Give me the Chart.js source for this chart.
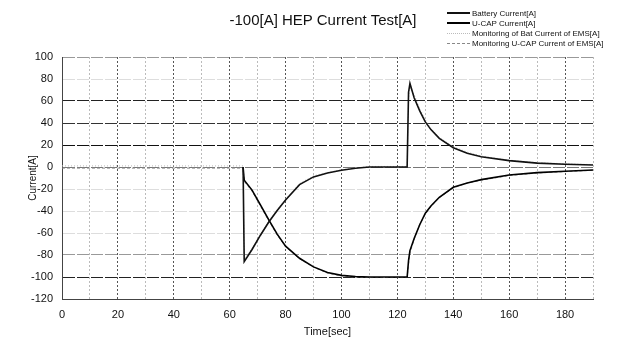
<!DOCTYPE html>
<html>
<head>
<meta charset="utf-8">
<script src="https://cdn.jsdelivr.net/npm/chart.js@4.4.0/dist/chart.umd.min.js"></script>
<style>
    body { margin: 0; background: #fff; font-family: "Liberation Sans", Arial, sans-serif; }
    #wrap { position: relative; width: 627px; height: 343px; }
    #title { position: absolute; left: 323px; top: 11px; transform: translateX(-50%); font-size: 15px; color: #111; white-space: nowrap; }
    #legend { position: absolute; left: 447px; top: 8px; font-size: 8px; color: #111; }
    .row { height: 10px; display: flex; align-items: center; white-space: nowrap; }
    .swatch { width: 23px; height: 0; margin-right: 2px; }
</style>
</head>
<body>
<div id="wrap">
    <canvas id="hep-chart" width="627" height="343"></canvas>
    <div id="title">-100[A] HEP Current Test[A]</div>
    <div id="legend"></div>
</div>
<script>
// the measured currents only show up from the 65 s step on; EMS monitoring is visible from 0 s
const timeSec        = [0, 64.8, 65.2, 68, 71, 74, 77, 80, 85, 90, 95, 100, 105, 110, 123.5, 124, 124.5, 126, 128, 130, 132, 135, 140, 145, 150, 160, 170, 180, 190];
const batteryCurrent = [null, 0, -86, -75, -62, -50, -39.5, -30, -16, -9, -5.5, -3, -1.2, 0, 0, 68, 76, 63, 51, 41, 34, 26, 17.5, 12.5, 9.3, 5.8, 3.5, 2.5, 1.8];
const ucapCurrent    = [null, 0, -12, -21, -34.5, -48, -61, -72, -83, -90.8, -96, -98.5, -99.5, -100, -100, -85, -76, -65, -52.5, -42, -35.5, -27.5, -18.5, -14.5, -11.5, -7.3, -5.1, -3.8, -2.7];
const monBatCurrent  = [1, 1, -84, -74, -61, -49, -38.5, -29, -15, -8, -5, -2.5, -1, 0.5, 0.5, 62, 72, 66, 53, 43, 35, 27, 18.5, 13.5, 10, 6.3, 4, 3, 2.2];
const monUcapCurrent = [-1, -1, -13, -22, -35.5, -49, -62, -72.5, -83.5, -91, -96.5, -99, -100, -100.5, -100.5, -88, -78, -66, -52, -43, -36, -28, -19, -14.5, -12, -7.8, -5.5, -4.2, -3];

const seriesLabels = ['Battery Current[A]', 'U-CAP Current[A]', 'Monitoring of Bat  Current of EMS[A]', 'Monitoring U-CAP Current of EMS[A]'];
const timeRange = [0, 190];
const currentRange = [-120, 100];

const toPoints = values => values.map((v, i) => ({ x: timeSec[i], y: v }));

const datasets = [
    { label: seriesLabels[0], data: toPoints(batteryCurrent), borderColor: '#111', borderWidth: 1.6, borderDash: [] },
    { label: seriesLabels[1], data: toPoints(ucapCurrent), borderColor: '#000', borderWidth: 1.6, borderDash: [] },
    { label: seriesLabels[2], data: toPoints(monBatCurrent), borderColor: '#bbb', borderWidth: 1, borderDash: [1, 2] },
    { label: seriesLabels[3], data: toPoints(monUcapCurrent), borderColor: '#888', borderWidth: 1, borderDash: [3, 2] }
].map(d => ({ ...d, pointRadius: 0, tension: 0, fill: false }));

// horizontal grid shades, darker where the scan shows heavy lines
const yGridColor = v => ({ 100: '#999', 60: '#222', 40: '#333', 20: '#111', 0: '#777', '-80': '#999', '-100': '#222', '-120': '#444' }[v] || '#ddd');

new Chart(document.getElementById('hep-chart'), {
    type: 'line',
    data: { datasets },
    options: {
        responsive: false,
        animation: false,
        layout: { padding: { top: 57, right: 34, left: 0, bottom: 0 } },
        plugins: { legend: { display: false }, title: { display: false }, tooltip: { enabled: false } },
        scales: {
            x: {
                type: 'linear',
                min: timeRange[0],
                max: timeRange[1],
                afterFit: s => { s.height = 44; },
                ticks: {
                    stepSize: 10,
                    padding: 9,
                    color: '#111',
                    font: { family: 'Liberation Sans', size: 11 },
                    callback: v => (v % 20 === 0 && v < 190 ? v : '')
                },
                grid: {
                    drawTicks: false,
                    color: ctx => (ctx.tick.value % 20 === 0 ? '#555' : '#bbb')
                },
                border: { color: '#444', dash: [2, 2] },
                title: { display: true, text: 'Time[sec]', color: '#111', font: { family: 'Liberation Sans', size: 11 }, padding: { top: 4 } }
            },
            y: {
                min: currentRange[0],
                max: currentRange[1],
                afterFit: s => { s.width = 62; },
                ticks: { stepSize: 20, padding: 9, color: '#111', font: { family: 'Liberation Sans', size: 11 } },
                grid: { drawTicks: false, color: ctx => yGridColor(ctx.tick.value) },
                border: { color: '#444', dash: [12, 2] },
                title: { display: true, text: 'Current[A]', color: '#111', font: { family: 'Liberation Sans', size: 10 }, padding: { top: 27 } }
            }
        }
    }
});

const legendEl = document.getElementById('legend');
datasets.forEach(d => {
    const style = d.borderDash.length ? (d.borderDash[0] < 2 ? 'dotted' : 'dashed') : 'solid';
    legendEl.innerHTML += `<div class="row"><span class="swatch" style="border-top:${Math.max(1, Math.round(d.borderWidth))}px ${style} ${d.borderColor}"></span>${d.label}</div>`;
});
</script>
</body>
</html>
